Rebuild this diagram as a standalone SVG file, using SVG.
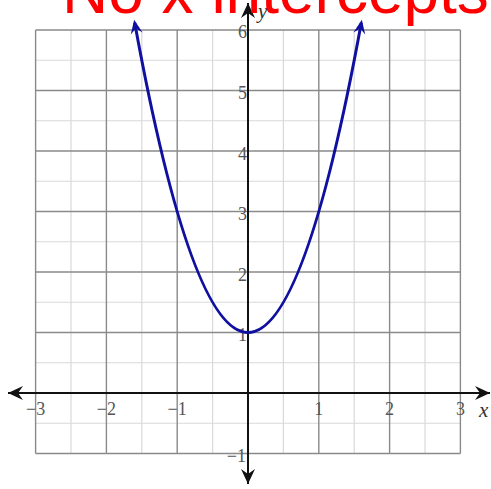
<svg xmlns="http://www.w3.org/2000/svg" width="491" height="489" viewBox="0 0 491 489">
<style>
.minor{stroke:#d9d9d9;stroke-width:1.2;fill:none}
.major{stroke:#8a8a8a;stroke-width:1.4;fill:none}
.lbl{font-family:"Liberation Serif","Times New Roman",serif;font-size:18px;fill:#555}
.xl{text-anchor:middle}
.yl{text-anchor:end}
.var{font-family:"Liberation Serif","Times New Roman",serif;font-style:italic;font-size:21px;fill:#333}
.axis{stroke:#111;stroke-width:2;fill:none}
.curve{stroke:#1010a0;stroke-width:3;fill:none}
</style>
<defs>
<marker id="ah" markerUnits="userSpaceOnUse" viewBox="-16 -8 20 16" refX="0" refY="0" markerWidth="20" markerHeight="16" orient="auto-start-reverse">
<path d="M0,0 L-15,-7 L-10,0 L-15,7 Z" fill="#111"/>
</marker>
<marker id="bh" markerUnits="userSpaceOnUse" viewBox="-16 -8 20 16" refX="-3" refY="0" markerWidth="20" markerHeight="16" orient="auto-start-reverse">
<path d="M0,0 L-14,-6 L-9,0 L-14,6 Z" fill="#1010a0"/>
</marker>
</defs>
<rect width="491" height="489" fill="#fff"/>
<g id="grid">
<g class="minor">
<path d="M71,30V453.5M141.8,30V453.5M212.6,30V453.5M283.4,30V453.5M354.2,30V453.5M425,30V453.5"/>
<path d="M35.6,60.25H460.4M35.6,120.75H460.4M35.6,181.25H460.4M35.6,241.75H460.4M35.6,302.25H460.4M35.6,362.75H460.4M35.6,423.25H460.4"/>
</g>
<g class="major">
<path d="M35.6,30V453.5M106.4,30V453.5M177.2,30V453.5M318.8,30V453.5M389.6,30V453.5M460.4,30V453.5"/>
<path d="M35.6,30H460.4M35.6,90.5H460.4M35.6,151H460.4M35.6,211.5H460.4M35.6,272H460.4M35.6,332.5H460.4M35.6,453.5H460.4"/>
</g>
</g>
<g id="labels" class="lbl">
<text class="xl" x="35.6" y="415">−3</text>
<text class="xl" x="106.4" y="415">−2</text>
<text class="xl" x="177.2" y="415">−1</text>
<text class="xl" x="318.8" y="415">1</text>
<text class="xl" x="389.6" y="415">2</text>
<text class="xl" x="460.4" y="415">3</text>
<text class="yl" x="247" y="38">6</text>
<text class="yl" x="247" y="99">5</text>
<text class="yl" x="247" y="159.5">4</text>
<text class="yl" x="247" y="220">3</text>
<text class="yl" x="247" y="280.5">2</text>
<text class="yl" x="247" y="341">1</text>
<text class="yl" x="246" y="462">−1</text>
</g>
<g id="axes">
<line class="axis" x1="8" y1="393" x2="490" y2="393" marker-start="url(#ah)" marker-end="url(#ah)"/>
<line class="axis" x1="248" y1="484" x2="248" y2="3" marker-start="url(#ah)" marker-end="url(#ah)"/>
<text class="var" x="479" y="417">x</text>
<text class="var" x="258" y="18">y</text>
</g>
<g id="curve">
<path class="curve" d="M134.7,22.7 Q248,642.3 361.3,22.7" marker-start="url(#bh)" marker-end="url(#bh)"/>
</g>
<g id="title">
<text x="62" y="13" font-family="'Liberation Sans',Arial,sans-serif" font-size="64" fill="#ff0000">No x intercepts</text>
</g>
</svg>
